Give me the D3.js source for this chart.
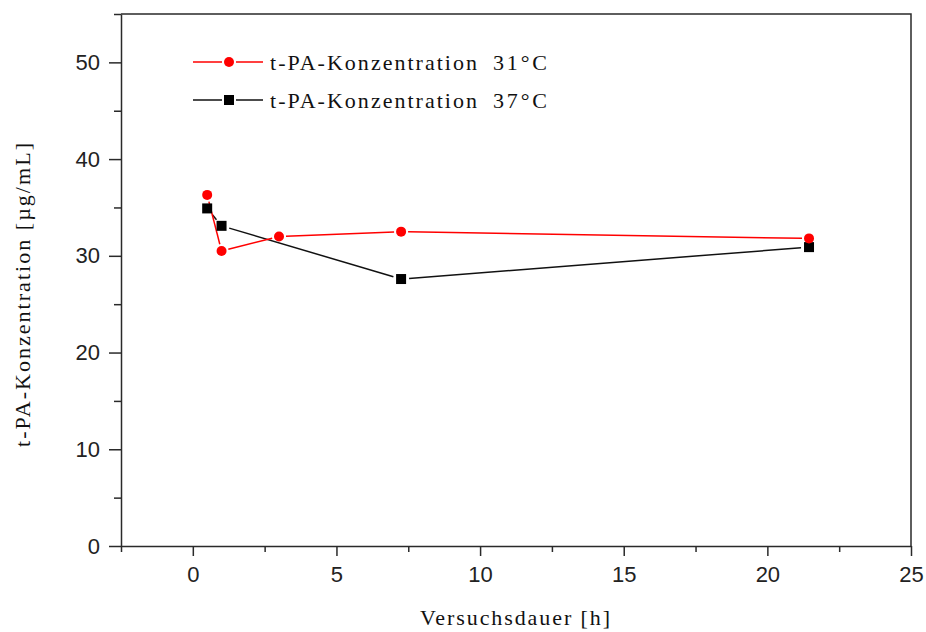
<!DOCTYPE html>
<html>
<head>
<meta charset="utf-8">
<script src="https://cdn.jsdelivr.net/npm/d3@7"></script>
<style>
  html, body { margin: 0; padding: 0; background: #fff; }
  svg { display: block; }
  .tick text { font-family: "Liberation Sans", Arial, sans-serif; font-size: 22px; fill: #222; }
  .serif { font-family: "Liberation Serif", "Times New Roman", serif; fill: #111; }
</style>
</head>
<body>
<svg id="chart" width="926" height="632"></svg>
<script>
// Measurement times (h) and t-PA concentrations (µg/mL)
const hours31 = [0.5, 1.0, 3.0, 7.25, 21.45];
const conc31  = [36.3, 30.5, 32.0, 32.5, 31.8];
const hours37 = [0.5, 1.0, 7.25, 21.45];
const conc37  = [34.9, 33.1, 27.6, 30.9];

const seriesNames = ["t-PA-Konzentration", "t-PA-Konzentration"];
const seriesTemps = ["31°C", "37°C"];

const xMajorTicks = [0, 5, 10, 15, 20, 25];
const xMinorTicks = [-2.5, 2.5, 7.5, 12.5, 17.5, 22.5];
const yMajorTicks = [0, 10, 20, 30, 40, 50];
const yMinorTicks = [5, 15, 25, 35, 45, 55];

const xTitle = "Versuchsdauer [h]";
const yTitle = "t-PA-Konzentration [µg/mL]";

const svg = d3.select("#chart");
const plotLeft = 121, plotRight = 911, plotTop = 14, plotBottom = 546;

const x = d3.scaleLinear().domain([-2.5, 25]).range([plotLeft, plotRight]);
const y = d3.scaleLinear().domain([0, 55]).range([plotBottom, plotTop]);

const axisColor = "#2a2a2a";

// frame (top and right edges)
svg.append("path")
  .attr("d", `M${plotLeft},${plotTop}H${plotRight}V${plotBottom}`)
  .attr("fill", "none").attr("stroke", axisColor).attr("stroke-width", 1.5);

function styleAxis(g) {
  g.select(".domain").attr("stroke", axisColor).attr("stroke-width", 1.5);
  g.selectAll(".tick line").attr("stroke", axisColor).attr("stroke-width", 1.5);
}

// x axis: major + minor ticks
svg.append("g").attr("transform", `translate(0,${plotBottom})`)
  .call(d3.axisBottom(x).tickValues(xMinorTicks).tickSize(6).tickSizeOuter(0).tickFormat(""))
  .call(styleAxis);
svg.append("g").attr("transform", `translate(0,${plotBottom})`)
  .call(d3.axisBottom(x).tickValues(xMajorTicks).tickSize(10).tickPadding(10).tickFormat(d3.format("d")))
  .call(styleAxis)
  .call(g => g.select(".domain").remove());

// y axis: major + minor ticks
svg.append("g").attr("transform", `translate(${plotLeft},0)`)
  .call(d3.axisLeft(y).tickValues(yMinorTicks).tickSize(7).tickSizeOuter(0).tickFormat(""))
  .call(styleAxis);
svg.append("g").attr("transform", `translate(${plotLeft},0)`)
  .call(d3.axisLeft(y).tickValues(yMajorTicks).tickSize(12).tickPadding(9).tickFormat(d3.format("d")))
  .call(styleAxis)
  .call(g => g.select(".domain").remove());

// axis titles
svg.append("text").attr("class", "serif")
  .attr("x", 515).attr("y", 625)
  .attr("text-anchor", "middle")
  .attr("font-size", 22)
  .attr("textLength", 190).attr("lengthAdjust", "spacing")
  .text(xTitle);

svg.append("text").attr("class", "serif")
  .attr("transform", "translate(30,295) rotate(-90)")
  .attr("text-anchor", "middle")
  .attr("font-size", 22)
  .attr("textLength", 304).attr("lengthAdjust", "spacing")
  .text(yTitle);

// line segments with small gaps around the symbols
function drawSeries(xs, ys, color, gap) {
  const pts = xs.map((d, i) => [x(d), y(ys[i])]);
  const g = svg.append("g");
  for (let i = 0; i < pts.length - 1; i++) {
    const [x0, y0] = pts[i], [x1, y1] = pts[i + 1];
    const len = Math.hypot(x1 - x0, y1 - y0);
    if (len <= 2 * gap) continue;
    const ux = (x1 - x0) / len, uy = (y1 - y0) / len;
    g.append("path")
      .attr("d", d3.line()([[x0 + ux * gap, y0 + uy * gap], [x1 - ux * gap, y1 - uy * gap]]))
      .attr("stroke", color).attr("stroke-width", 1.5).attr("fill", "none");
  }
  return pts;
}

const red = "#ff0000";
drawSeries(hours37, conc37, "#111", 8);
drawSeries(hours31, conc31, red, 7);

svg.append("g").selectAll("rect")
  .data(hours37.map((d, i) => [d, conc37[i]]))
  .join("rect")
  .attr("x", d => x(d[0]) - 5).attr("y", d => y(d[1]) - 5)
  .attr("width", 10).attr("height", 10).attr("fill", "#000");

svg.append("g").selectAll("circle")
  .data(hours31.map((d, i) => [d, conc31[i]]))
  .join("circle")
  .attr("cx", d => x(d[0])).attr("cy", d => y(d[1])).attr("r", 5)
  .attr("fill", red);

// legend
const legend = svg.append("g");
const legendRows = [
  { color: red, shape: "circle", yy: 62 },
  { color: "#111", shape: "square", yy: 100 }
];
legendRows.forEach((r, i) => {
  legend.append("line").attr("x1", 193).attr("x2", 222).attr("y1", r.yy).attr("y2", r.yy)
    .attr("stroke", r.color).attr("stroke-width", 1.5);
  legend.append("line").attr("x1", 236).attr("x2", 263).attr("y1", r.yy).attr("y2", r.yy)
    .attr("stroke", r.color).attr("stroke-width", 1.5);
  if (r.shape === "circle") {
    legend.append("circle").attr("cx", 229).attr("cy", r.yy).attr("r", 5).attr("fill", r.color);
  } else {
    legend.append("rect").attr("x", 224).attr("y", r.yy - 5).attr("width", 10).attr("height", 10).attr("fill", "#000");
  }
  legend.append("text").attr("class", "serif")
    .attr("x", 270).attr("y", r.yy + 8).attr("font-size", 22)
    .attr("textLength", 207).attr("lengthAdjust", "spacing")
    .text(seriesNames[i]);
  legend.append("text").attr("class", "serif")
    .attr("x", 493).attr("y", r.yy + 8).attr("font-size", 22)
    .attr("textLength", 54).attr("lengthAdjust", "spacing")
    .text(seriesTemps[i]);
});
</script>
</body>
</html>
